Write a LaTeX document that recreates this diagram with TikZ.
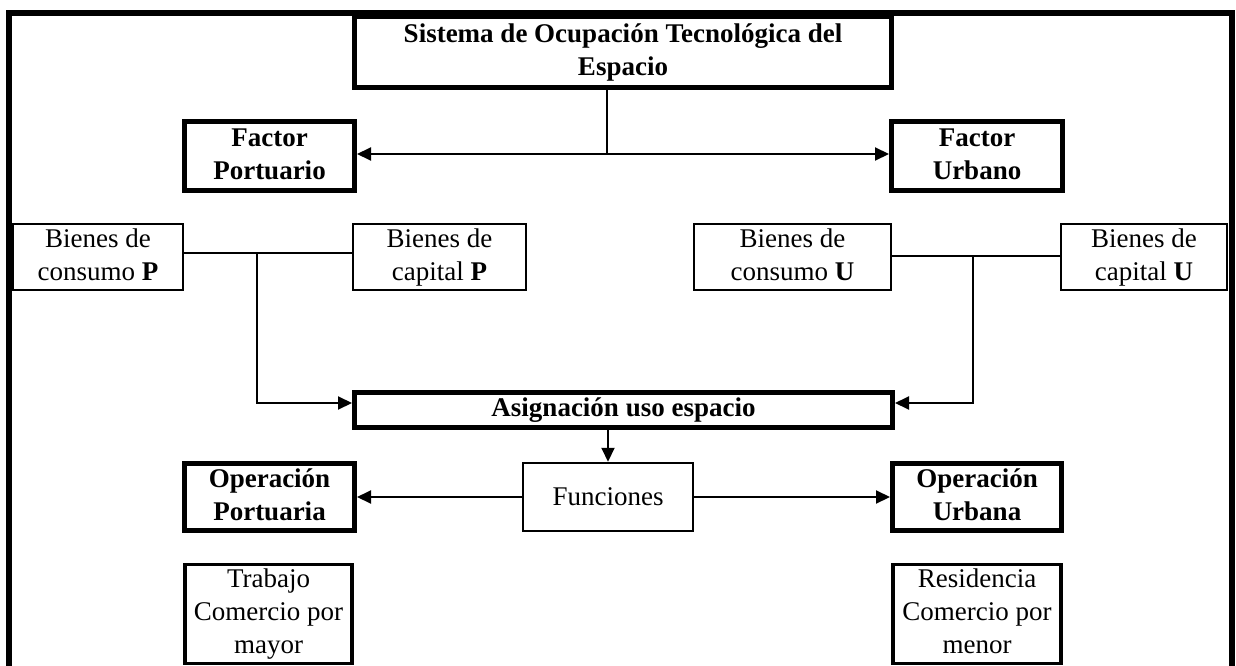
\documentclass[tikz,border=0pt]{standalone}
\usepackage{fontspec}
\setmainfont{Liberation Serif}
\usetikzlibrary{arrows.meta}
\begin{document}
\begin{tikzpicture}[x=1pt,y=-1pt,
  tbox/.style={draw, line width=5pt, inner sep=0pt, align=center, font=\fontsize{27}{33}\selectfont\bfseries},
  nbox/.style={draw, line width=2.5pt, inner sep=0pt, align=center, font=\fontsize{27}{33}\selectfont},
  conn/.style={line width=2pt},
  arr/.style={conn, -{Triangle[length=14pt,width=13pt]}},
  frame/.style={line width=6pt, line join=miter}]
\useasboundingbox (0,0) rectangle (1236,666);
% outer frame (open at the bottom of the image)
\draw[frame] (9,700) -- (9,13) -- (1231.5,13) -- (1231.5,700);
% nodes
\node[tbox, minimum width=537pt, minimum height=71pt] (sys) at (623,52) {\strut Sistema de Ocupación Tecnológica del\\Espacio\strut};
\node[tbox, minimum width=170pt, minimum height=69pt] (fp) at (269.5,156) {\strut Factor\\Portuario\strut};
\node[tbox, minimum width=171pt, minimum height=69pt] (fu) at (977,156) {\strut Factor\\Urbano\strut};
\node[nbox, minimum width=170pt, minimum height=66pt] (bcp) at (98,257) {\strut Bienes de\\consumo \textbf{P}\strut};
\node[nbox, minimum width=173pt, minimum height=66pt] (bkp) at (439.5,257) {\strut Bienes de\\capital \textbf{P}\strut};
\node[nbox, minimum width=197pt, minimum height=66pt] (bcu) at (792.5,257) {\strut Bienes de\\consumo \textbf{U}\strut};
\node[nbox, minimum width=166pt, minimum height=66pt] (bku) at (1144,257) {\strut Bienes de\\capital \textbf{U}\strut};
\node[tbox, minimum width=538pt, minimum height=35pt] (asg) at (623.5,410) {\strut Asignación uso espacio};
\node[nbox, minimum width=170pt, minimum height=68pt] (fun) at (608,497) {Funciones};
\node[tbox, minimum width=170pt, minimum height=67pt] (op) at (269.5,497) {\strut Operación\\Portuaria\strut};
\node[tbox, minimum width=169pt, minimum height=67pt] (ou) at (977,497) {\strut Operación\\Urbana\strut};
\node[nbox, line width=3.5pt, minimum width=167pt, minimum height=98pt] (tr) at (268.5,614) {\strut Trabajo\\Comercio por\\mayor\strut};
\node[nbox, line width=3.5pt, minimum width=168pt, minimum height=98pt] (rs) at (977,614) {\strut Residencia\\Comercio por\\menor\strut};
% connectors
\coordinate (j1) at (607,154);
\draw[conn] (sys.south -| j1) -- (j1);
\draw[arr] (j1) -- (j1 -| fp.east);
\draw[arr] (j1) -- (j1 -| fu.west);
\coordinate (j2) at (257,253);
\coordinate (a1) at (257,403);
\draw[conn] (j2 -| bcp.east) -- (j2 -| bkp.west);
\draw[arr] (j2) -- (a1) -- (a1 -| asg.west);
\coordinate (j3) at (973,256);
\coordinate (a2) at (973,403);
\draw[conn] (j3 -| bcu.east) -- (j3 -| bku.west);
\draw[arr] (j3) -- (a2) -- (a2 -| asg.east);
\draw[arr] (asg.south -| fun.north) -- (fun.north);
\draw[arr] (fun.west) -- (op.east);
\draw[arr] (fun.east) -- (ou.west);
\end{tikzpicture}
\end{document}
